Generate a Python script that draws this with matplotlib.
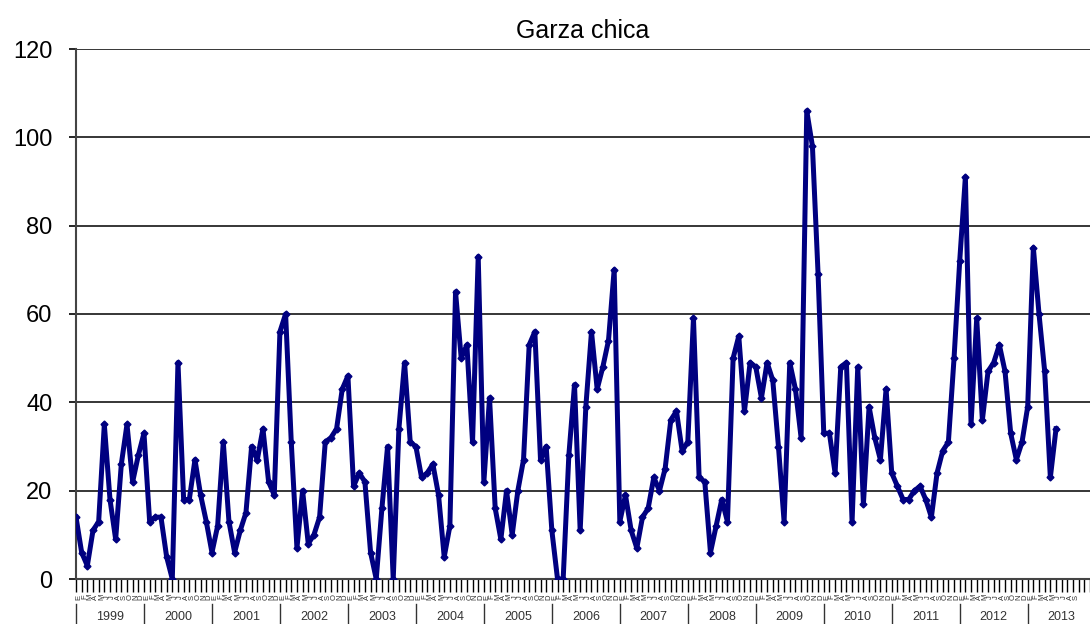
import matplotlib
matplotlib.use("Agg")
import matplotlib.pyplot as plt
import matplotlib.transforms as mtransforms

plt.rcParams['font.family'] = ['Liberation Sans', 'DejaVu Sans']

# monthly counts, Jan 1999 .. Jun 2013
values = [
    14, 6, 3, 11, 13, 35, 18, 9, 26, 35, 22, 28,          # 1999
    33, 13, 14, 14, 5, 0, 49, 18, 18, 27, 19, 13,         # 2000
    6, 12, 31, 13, 6, 11, 15, 30, 27, 34, 22, 19,         # 2001
    56, 60, 31, 7, 20, 8, 10, 14, 31, 32, 34, 43,         # 2002
    46, 21, 24, 22, 6, 0, 16, 30, 0, 34, 49, 31,          # 2003
    30, 23, 24, 26, 19, 5, 12, 65, 50, 53, 31, 73,        # 2004
    22, 41, 16, 9, 20, 10, 20, 27, 53, 56, 27, 30,        # 2005
    11, 0, 0, 28, 44, 11, 39, 56, 43, 48, 54, 70,         # 2006
    13, 19, 11, 7, 14, 16, 23, 20, 25, 36, 38, 29,        # 2007
    31, 59, 23, 22, 6, 12, 18, 13, 50, 55, 38, 49,        # 2008
    48, 41, 49, 45, 30, 13, 49, 43, 32, 106, 98, 69,      # 2009
    33, 33, 24, 48, 49, 13, 48, 17, 39, 32, 27, 43,       # 2010
    24, 21, 18, 18, 20, 21, 18, 14, 24, 29, 31, 50,       # 2011
    72, 91, 35, 59, 36, 47, 49, 53, 47, 33, 27, 31,       # 2012
    39, 75, 60, 47, 23, 34,                               # 2013
]
years = list(range(1999, 2014))
month_letters = ["E", "F", "M", "A", "M", "J", "J", "A", "S", "O", "N", "D"]
title = "Garza chica"

W, H = 1090, 624
fig = plt.figure(figsize=(W / 100, H / 100), dpi=100)
ax = fig.add_axes([76 / W, 45 / H, 1 - 76 / W, 530 / H])

ax.plot(range(len(values)), values, color="#000080", lw=3.6,
        marker="D", ms=3.5, solid_joinstyle="round", zorder=3)

ax.set_ylim(0, 120)
ax.set_yticks(range(0, 121, 20))
xmax = (W - 76) / 5.694
ax.set_xlim(0, xmax)
ax.yaxis.grid(True, color="black", lw=1.1)
ax.set_axisbelow(True)

for s in ["top", "right"]:
    ax.spines[s].set_visible(False)
ax.spines["left"].set_color("#444444")
ax.spines["left"].set_linewidth(1.5)
ax.spines["bottom"].set_color("#444444")
ax.spines["bottom"].set_linewidth(1.5)

ax.tick_params(axis="y", labelsize=17, length=5, width=1.2, pad=12)
n_cat = 12 * len(years)
ax.set_xticks(range(n_cat))
ax.tick_params(axis="x", length=9, width=1.0, labelbottom=False)

# month letters and the year row underneath
trans = mtransforms.blended_transform_factory(ax.transData, ax.transAxes)
for k in range(n_cat):
    if k + 0.5 > xmax - 1:
        break
    ax.text(k + 0.5, -0.034, month_letters[k % 12], transform=trans,
            rotation=90, fontsize=5.5, ha="center", va="center",
            color="#333333", clip_on=False)
for j, yr in enumerate(years):
    x0 = 12 * j
    ax.plot([x0, x0], [-0.047, -0.09], transform=trans, color="#333333",
            lw=1.0, clip_on=False)
    ax.text(x0 + 6, -0.072, str(yr), transform=trans, fontsize=9,
            ha="center", va="center", color="#333333", clip_on=False)

ax.set_title(title, fontsize=18, pad=8)

fig.savefig("out.png", dpi=100)
